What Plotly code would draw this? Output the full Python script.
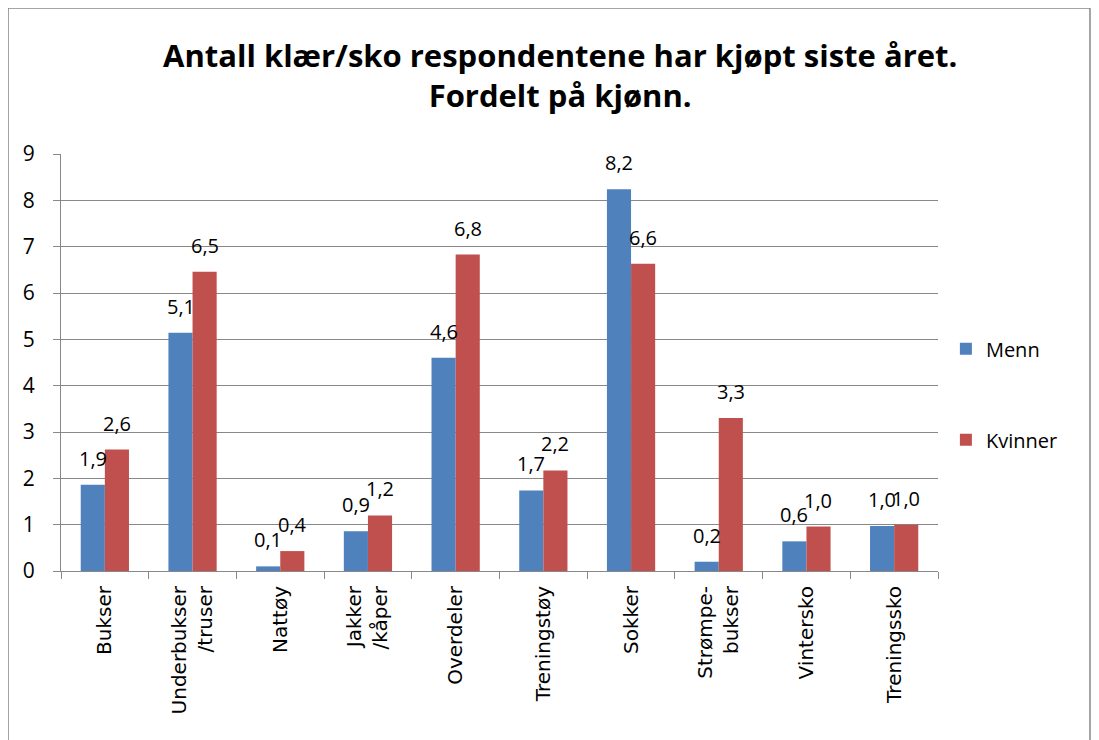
import plotly.graph_objects as go

categories = ["Bukser", "Underbukser<br>/truser", "Nattøy", "Jakker<br>/kåper", "Overdeler",
              "Treningstøy", "Sokker", "Strømpe-<br>bukser", "Vintersko", "Treningssko"]
menn = [1.86, 5.14, 0.1, 0.86, 4.6, 1.74, 8.24, 0.2, 0.64, 0.97]
kvinner = [2.62, 6.46, 0.43, 1.2, 6.83, 2.17, 6.63, 3.3, 0.96, 1.0]

fig = go.Figure()
fig.add_trace(go.Bar(x=categories, y=menn, name="Menn", marker_color="#4F81BD",
                     legendgroup="m", marker_line_width=0))
fig.add_trace(go.Bar(x=categories, y=kvinner, name="Kvinner", marker_color="#C0504D",
                     legendgroup="k", marker_line_width=0))

# data labels above each bar, shifted onto its half of the group
for series, shift in ((menn, -12), (kvinner, 12)):
    for cat, v in zip(categories, series):
        fig.add_annotation(x=cat, y=v, text=f"{v:.1f}".replace(".", ","), showarrow=False,
                           xshift=shift, yshift=11, yanchor="bottom",
                           font=dict(size=20, family="Open Sans", color="black"))

fig.add_annotation(text="<b>Antall klær/sko respondentene har kjøpt siste året.<br>Fordelt på kjønn.</b>",
                   xref="paper", yref="paper", x=0.569, y=1.19, xanchor="center", yanchor="middle",
                   showarrow=False, font=dict(family="Open Sans", size=31, color="black"))

fig.update_layout(
    width=1099, height=740,
    barmode="group", bargap=0.45, bargroupgap=0,
    plot_bgcolor="white", paper_bgcolor="white",
    margin=dict(l=53, r=169, t=146, b=177),
    font=dict(family="Open Sans", color="black"),
    legend=dict(x=1.009, y=0.424, xanchor="left", yanchor="middle", traceorder="grouped",
                font=dict(size=20, family="Open Sans"), tracegroupgap=62),
)
fig.update_xaxes(tickangle=-90, tickfont=dict(size=20, family="DejaVu Sans"), showline=True,
                 linecolor="#888", ticks="outside", tickson="boundaries", ticklen=7,
                 tickcolor="#888", automargin=False, ticklabelstandoff=6)
fig.update_yaxes(range=[0, 9], dtick=1, tickfont=dict(size=21, family="Open Sans"), showgrid=True,
                 gridcolor="#888", showline=True, linecolor="#888", ticks="outside", ticklen=7,
                 tickcolor="#888", zeroline=False, automargin=False, ticklabelstandoff=14)

fig.add_shape(type="rect", xref="paper", yref="paper", x0=-0.0604, x1=1.1733, y0=-0.5, y1=1.35,
              line=dict(color="#888", width=1.5), fillcolor="rgba(0,0,0,0)", layer="below")

fig.write_html("out.html")
